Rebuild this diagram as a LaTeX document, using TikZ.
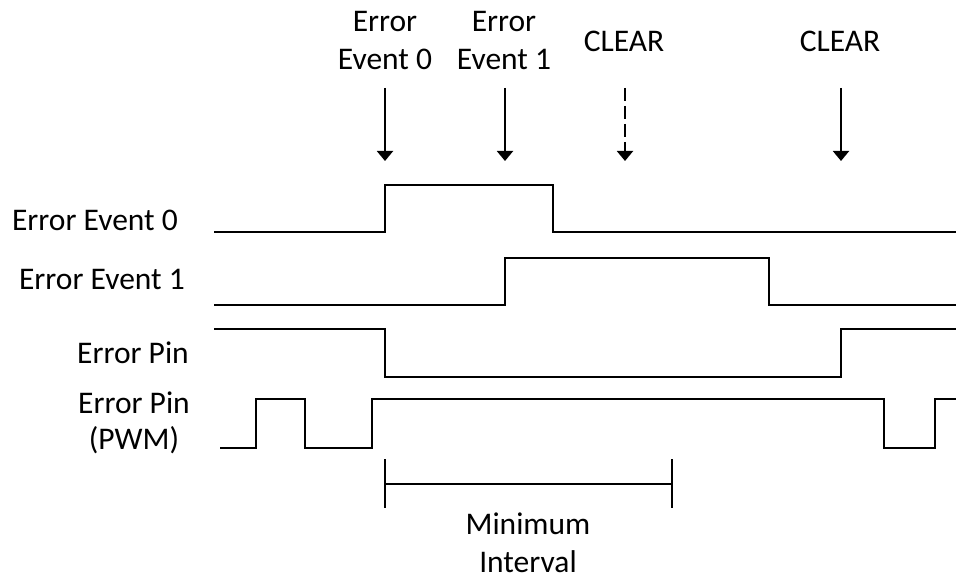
\documentclass[tikz,border=0pt]{standalone}
\usepackage{fontspec}
\setmainfont{Carlito}
\usetikzlibrary{arrows.meta}
\begin{document}
\begin{tikzpicture}[x=1pt,y=-1pt,
  sig/.style={line width=2pt, line join=miter},
  lbl/.style={font=\fontsize{31.5}{38}\selectfont, inner sep=0pt, align=center},
  evarrow/.style={line width=2pt, -{Triangle[width=16pt,length=10pt]}},
  tick/.style={line width=2pt},
 ]
\useasboundingbox (0,0) rectangle (956,577);
% left labels
\node[lbl, anchor=base east] (l0) at (178,231) {Error Event 0};
\node[lbl, anchor=base east] (l1) at (185,290) {Error Event 1};
\node[lbl, anchor=base east] (l2) at (189,363) {Error Pin};
\node[lbl, anchor=base, font=\fontsize{31.5}{36}\selectfont] (l3) at (134,449) {Error Pin\\(PWM)};
% top labels
\node[lbl, anchor=base] (t0) at (385,70) {Error\\Event 0};
\node[lbl, anchor=base] (t1) at (504,70) {Error\\Event 1};
\node[lbl, anchor=base] (t2) at (624,52) {CLEAR};
\node[lbl, anchor=base] (t3) at (840,52) {CLEAR};
% arrows
\coordinate (a0s) at (385,88); \coordinate (a0e) at (385,161);
\coordinate (a1s) at (505,88); \coordinate (a1e) at (505,161);
\coordinate (a2s) at (625,88); \coordinate (a2e) at (625,161);
\coordinate (a3s) at (841,88); \coordinate (a3e) at (841,161);
\draw[evarrow] (a0s) -- (a0e);
\draw[evarrow] (a1s) -- (a1e);
\draw[evarrow, dash pattern=on 13pt off 5pt] (a2s) -- (a2e);
\draw[evarrow] (a3s) -- (a3e);
% signals
\draw[sig] (214,232) -| (385,185) -| (553,232) -- (956,232);
\draw[sig] (214,305) -| (505,258) -| (769,305) -- (956,305);
\draw[sig] (214,329) -| (385,377) -| (841,329) -- (956,329);
\draw[sig] (220,448) -| (256,399) -| (305,448) -| (372,399) -| (884,448) -| (935,399) -- (956,399);
% minimum interval
\coordinate (m0t) at (385,459); \coordinate (m0b) at (385,508);
\coordinate (m1t) at (672,459); \coordinate (m1b) at (672,508);
\coordinate (m0) at (385,484); \coordinate (m1) at (672,484);
\draw[tick] (m0t) -- (m0b);
\draw[tick] (m1t) -- (m1b);
\draw[line width=1.5pt] (m0) -- (m1);
\node[lbl, anchor=base] (mi) at (528,572) {Minimum\\Interval};
\end{tikzpicture}
\end{document}
